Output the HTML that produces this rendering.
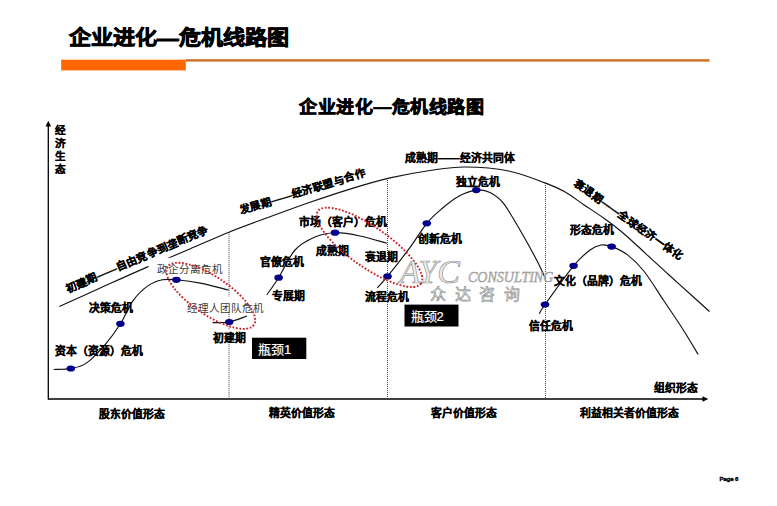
<!DOCTYPE html>
<html lang="zh-CN"><head><meta charset="utf-8"><style>
html,body{margin:0;padding:0;background:#fff;width:777px;height:506px;overflow:hidden;position:relative;font-family:"Liberation Sans", sans-serif;}
</style></head><body>
<svg width="777" height="506" viewBox="0 0 777 506" style="position:absolute;left:0;top:0">
<g font-family='"Liberation Sans", sans-serif'>
<rect x="61.2" y="59.7" width="124.6" height="10.7" fill="#ff6600"/>
<rect x="186" y="59.2" width="523.5" height="2.4" fill="#cf6f22"/>
<text x="0" y="0" font-size="22.1" letter-spacing="0.38" font-weight="900" stroke="#000" stroke-width="0.8" transform="translate(68.6,44.9) scale(1,0.94)">企业进化—危机线路图</text>
<text x="0" y="0" font-size="18" letter-spacing="0.1" font-weight="900" stroke="#000" stroke-width="0.7" transform="translate(299.3,113.2) scale(1,0.95)">企业进化—危机线路图</text>
<line x1="48.3" y1="126" x2="48.3" y2="399.6" stroke="#000" stroke-width="1.3"/>
<polygon points="45.5,126.5 51.1,126.5 48.3,120.8" fill="#000"/>
<line x1="48" y1="399" x2="703" y2="399" stroke="#000" stroke-width="1.3"/>
<polygon points="702.5,396.3 702.5,401.7 708.3,399" fill="#000"/>
<line x1="229" y1="232.2" x2="229" y2="398" stroke="#444" stroke-width="1" stroke-dasharray="1,1"/>
<line x1="387.5" y1="178" x2="387.5" y2="398" stroke="#444" stroke-width="1" stroke-dasharray="1,1"/>
<line x1="545.5" y1="183" x2="545.5" y2="398" stroke="#444" stroke-width="1" stroke-dasharray="1,1"/>
<path d="M59.3,306.6 C67.8,302.8 95.2,290.3 110.0,283.6 C124.8,276.9 135.1,272.3 148.3,266.6 C161.5,260.9 175.9,254.9 189.3,249.2 C202.8,243.5 215.6,237.6 229.0,232.2 C242.4,226.8 256.5,221.8 270.0,216.8 C283.5,211.8 296.7,206.9 310.0,202.3 C323.3,197.7 336.7,193.2 350.0,189.1 C363.3,185.0 376.4,181.1 390.0,177.9 C403.6,174.8 419.0,172.0 431.5,170.2 C444.0,168.4 452.1,166.9 465.0,167.0 C477.9,167.1 495.4,168.3 508.7,171.0 C522.0,173.7 535.6,179.4 545.0,182.9 C554.4,186.4 558.2,188.1 564.8,191.8 C571.4,195.5 577.9,200.8 584.5,205.2 C591.1,209.6 598.1,214.1 604.3,218.5 C610.5,222.9 616.1,227.2 621.6,231.8 C627.1,236.4 632.2,241.2 637.5,246.0 C642.8,250.8 648.0,255.8 653.3,260.6 C658.5,265.4 662.6,269.2 669.0,275.0 C675.4,280.8 684.8,289.2 691.5,295.3 C698.2,301.4 706.5,308.8 709.5,311.5" fill="none" stroke="#111" stroke-width="1.15"/>
<path d="M53.7,369.5 C56.6,369.3 65.3,369.6 70.8,368.5 C76.3,367.4 80.8,367.1 86.7,362.9 C92.6,358.7 100.6,349.8 106.2,343.3 C111.8,336.8 115.9,330.9 120.4,323.8 C124.9,316.7 128.5,306.9 133.1,300.6 C137.7,294.3 142.9,289.4 147.8,285.9 C152.7,282.4 157.7,280.8 162.5,279.8 C167.3,278.8 169.9,279.2 176.4,279.8 C182.9,280.4 192.9,281.7 201.6,283.4 C210.3,285.1 224.0,288.9 228.5,290.0" fill="none" stroke="#111" stroke-width="1.15"/>
<path d="M212.6,322.6 C215.4,322.5 223.5,323.1 229.2,322.0 C234.9,320.9 244.0,317.0 247.0,316.0" fill="none" stroke="#111" stroke-width="1.15"/>
<path d="M266.7,295.0 C268.7,292.1 273.9,285.2 278.6,277.7 C283.3,270.2 288.9,256.8 295.0,250.0 C301.1,243.2 308.3,239.9 315.0,237.0 C321.7,234.1 327.5,232.9 335.0,232.7 C342.5,232.5 351.4,234.2 360.0,236.0 C368.6,237.8 382.3,242.0 386.8,243.2" fill="none" stroke="#111" stroke-width="1.15"/>
<path d="M377.3,287.8 C379.0,285.9 382.1,283.0 387.5,276.4 C392.9,269.8 402.9,257.0 409.5,248.2 C416.1,239.3 421.3,230.0 426.8,223.3 C432.3,216.6 437.3,212.6 442.7,208.0 C448.1,203.4 453.6,199.0 459.2,196.0 C464.8,193.0 471.2,190.7 476.3,190.1 C481.4,189.5 485.4,190.2 490.0,192.5 C494.6,194.8 498.3,196.7 503.7,203.7 C509.1,210.7 517.1,225.0 522.6,234.5 C528.1,244.0 533.0,253.1 536.9,260.6 C540.8,268.1 544.3,276.2 545.8,279.3" fill="none" stroke="#111" stroke-width="1.15"/>
<path d="M539.4,313.8 C540.3,312.2 539.3,312.5 545.0,304.5 C550.7,296.5 566.1,274.9 573.6,265.8 C581.1,256.7 585.4,253.5 590.0,250.0 C594.6,246.5 597.4,245.6 601.0,245.0 C604.6,244.4 607.2,244.9 611.6,246.6 C616.0,248.2 622.2,250.8 627.6,254.9 C633.0,259.1 638.2,263.9 644.2,271.5 C650.2,279.1 657.2,290.8 663.7,300.5 C670.2,310.2 677.3,320.5 683.0,329.5 C688.7,338.5 695.6,350.2 698.1,354.4" fill="none" stroke="#111" stroke-width="1.15"/>
<ellipse cx="70.8" cy="368.5" rx="4.3" ry="3.1" fill="#00008b"/>
<ellipse cx="120.4" cy="323.8" rx="4.3" ry="3.1" fill="#00008b"/>
<ellipse cx="176.4" cy="279.8" rx="4.3" ry="3.1" fill="#00008b"/>
<ellipse cx="229.2" cy="322" rx="4.3" ry="3.1" fill="#00008b"/>
<ellipse cx="278.6" cy="277.7" rx="4.3" ry="3.1" fill="#00008b"/>
<ellipse cx="335" cy="232.7" rx="4.3" ry="3.1" fill="#00008b"/>
<ellipse cx="387.5" cy="276.4" rx="4.3" ry="3.1" fill="#00008b"/>
<ellipse cx="426.8" cy="223.3" rx="4.3" ry="3.1" fill="#00008b"/>
<ellipse cx="476.3" cy="190.1" rx="4.3" ry="3.1" fill="#00008b"/>
<ellipse cx="545" cy="304.5" rx="4.3" ry="3.1" fill="#00008b"/>
<ellipse cx="573.6" cy="265.8" rx="4.3" ry="3.1" fill="#00008b"/>
<ellipse cx="611.6" cy="246.6" rx="4.3" ry="3.1" fill="#00008b"/>
<text x="55" y="134.3" font-size="10.6" font-weight="bold" fill="#000" text-anchor="start"  stroke="#000" stroke-width="0.25">经</text>
<text x="55" y="147.20000000000002" font-size="10.6" font-weight="bold" fill="#000" text-anchor="start"  stroke="#000" stroke-width="0.25">济</text>
<text x="55" y="160.10000000000002" font-size="10.6" font-weight="bold" fill="#000" text-anchor="start"  stroke="#000" stroke-width="0.25">生</text>
<text x="55" y="173.0" font-size="10.6" font-weight="bold" fill="#000" text-anchor="start"  stroke="#000" stroke-width="0.25">态</text>
<text x="55" y="354.5" font-size="10.8" font-weight="bold" fill="#000" text-anchor="start"  stroke="#000" stroke-width="0.25">资本（资源）危机</text>
<text x="88.7" y="311.5" font-size="10.8" font-weight="bold" fill="#000" text-anchor="start"  stroke="#000" stroke-width="0.25">决策危机</text>
<rect x="212" y="330" width="35" height="13" fill="#fff"/>
<text x="213" y="341.5" font-size="10.8" font-weight="bold" fill="#000" text-anchor="start"  stroke="#000" stroke-width="0.25">初建期</text>
<text x="259.6" y="265.5" font-size="10.8" font-weight="bold" fill="#000" text-anchor="start"  stroke="#000" stroke-width="0.25">官僚危机</text>
<text x="271.5" y="300.0" font-size="10.8" font-weight="bold" fill="#000" text-anchor="start"  stroke="#000" stroke-width="0.25">专展期</text>
<text x="299" y="225.5" font-size="10.8" font-weight="bold" fill="#000" text-anchor="start"  stroke="#000" stroke-width="0.25">市场（客户）危机</text>
<text x="315.6" y="254.5" font-size="10.8" font-weight="bold" fill="#000" text-anchor="start"  stroke="#000" stroke-width="0.25">成熟期</text>
<text x="365.4" y="260.5" font-size="10.8" font-weight="bold" fill="#000" text-anchor="start"  stroke="#000" stroke-width="0.25">衰退期</text>
<text x="365.4" y="301.0" font-size="10.8" font-weight="bold" fill="#000" text-anchor="start"  stroke="#000" stroke-width="0.25">流程危机</text>
<text x="417.8" y="243.0" font-size="10.8" font-weight="bold" fill="#000" text-anchor="start"  stroke="#000" stroke-width="0.25">创新危机</text>
<text x="455.7" y="185.5" font-size="10.8" font-weight="bold" fill="#000" text-anchor="start"  stroke="#000" stroke-width="0.25">独立危机</text>
<text x="405" y="161.5" font-size="10.8" font-weight="bold" fill="#000" text-anchor="start"  stroke="#000" stroke-width="0.25">成熟期——经济共同体</text>
<text x="570" y="234.0" font-size="10.8" font-weight="bold" fill="#000" text-anchor="start"  stroke="#000" stroke-width="0.25">形态危机</text>
<text x="554" y="285.0" font-size="10.8" font-weight="bold" fill="#000" text-anchor="start"  stroke="#000" stroke-width="0.25">文化（品牌）危机</text>
<text x="529" y="330.0" font-size="10.8" font-weight="bold" fill="#000" text-anchor="start"  stroke="#000" stroke-width="0.25">信任危机</text>
<text x="654" y="392.0" font-size="10.8" font-weight="bold" fill="#000" text-anchor="start"  stroke="#000" stroke-width="0.25">组织形态</text>
<text x="99" y="418.0" font-size="10.8" font-weight="bold" fill="#000" text-anchor="start"  stroke="#000" stroke-width="0.25">股东价值形态</text>
<text x="269.4" y="416.5" font-size="10.8" font-weight="bold" fill="#000" text-anchor="start"  stroke="#000" stroke-width="0.25">精英价值形态</text>
<text x="431" y="417.0" font-size="10.8" font-weight="bold" fill="#000" text-anchor="start"  stroke="#000" stroke-width="0.25">客户价值形态</text>
<text x="580.4" y="417.0" font-size="10.8" font-weight="bold" fill="#000" text-anchor="start"  stroke="#000" stroke-width="0.25">利益相关者价值形态</text>
<rect x="148.5" y="257.8" width="78" height="16" fill="#fff"/>
<text x="157" y="272.5" font-size="10.6" font-weight="normal" fill="#3c3c3c" text-anchor="start" >政企分离危机</text>
<rect x="186" y="296.5" width="78" height="14.5" fill="#fff"/>
<text x="186.6" y="312.0" font-size="10.6" font-weight="normal" fill="#3c3c3c" text-anchor="start" >经理人团队危机</text>
<ellipse cx="210.8" cy="295.8" rx="52" ry="19" transform="rotate(34 210.8 295.8)" fill="none" stroke="#cc2228" stroke-width="1.9" stroke-dasharray="1.8,1.7"/>
<ellipse cx="369.5" cy="247.3" rx="63" ry="20" transform="rotate(35 369.5 247.3)" fill="none" stroke="#cc2228" stroke-width="1.9" stroke-dasharray="1.8,1.7"/>
<text x="0" y="0" font-size="10.82" font-weight="bold" stroke="#000" stroke-width="0.25" transform="translate(68.07,293.12) rotate(-23.38)">初建期——自由竞争到垄断竞争</text>
<text x="0" y="0" font-size="10.66" font-weight="bold" stroke="#000" stroke-width="0.25" transform="translate(240.67,214.12) rotate(-16.86)">发展期——经济联盟与合作</text>
<text x="0" y="0" font-size="10.57" font-weight="bold" stroke="#000" stroke-width="0.25" transform="translate(573.16,185.02) rotate(35.30)">衰退期——全球经济一体化</text>
<rect x="252" y="337.7" width="54.3" height="21.3" fill="#000"/>
<text x="258" y="353.5" font-size="13" font-weight="normal" fill="#fff" text-anchor="start" stroke="#fff" stroke-width="0.2">瓶颈1</text>
<rect x="404.5" y="304.6" width="54" height="21.9" fill="#000"/>
<text x="410.5" y="320.5" font-size="13" font-weight="normal" fill="#fff" text-anchor="start" stroke="#fff" stroke-width="0.2">瓶颈2</text>
<text x="399.5" y="282.5" font-family="'Liberation Serif', serif" font-style="italic" font-size="34" fill="#d8d8d8" fill-opacity="0.55" stroke="#8a8a8a" stroke-opacity="0.9" stroke-width="0.7">AYC</text>
<text x="468" y="281.7" font-family="'Liberation Serif', serif" font-style="italic" font-size="14" fill="#c8c8c8" stroke="#888" stroke-width="0.4">CONSULTING</text>
<text x="430" y="300" font-size="16" fill="#d8d8d8" fill-opacity="0.6" stroke="#8a8a8a" stroke-width="0.6" letter-spacing="8.5">众达咨询</text>
<text x="719.5" y="480.8" font-size="6.1" letter-spacing="-0.15" font-weight="bold" fill="#000" stroke="#000" stroke-width="0.35">Page 6</text>
</g></svg>
</body></html>
